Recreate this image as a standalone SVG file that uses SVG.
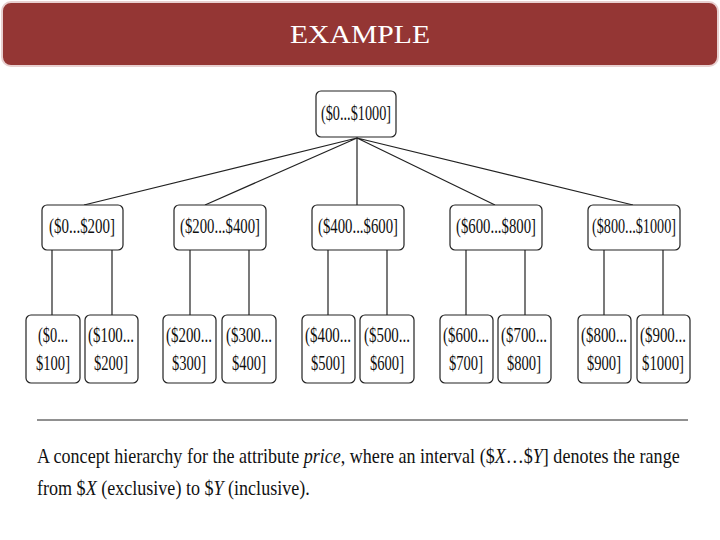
<svg xmlns="http://www.w3.org/2000/svg" width="720" height="540" viewBox="0 0 720 540">
<style>
.b{fill:#fff;stroke:#222;stroke-width:1.2}
.t{font-family:"Liberation Serif",serif;font-size:20px;fill:#111;text-anchor:middle}
.c{stroke:#222;stroke-width:1.2;fill:none}
.cap{font-family:"Liberation Serif",serif;font-size:21px;fill:#111}
</style>
<rect x="2" y="2" width="716" height="64" rx="9" fill="#943634" stroke="#e8d0d0" stroke-width="2"/>
<text x="360" y="43" font-family="Liberation Serif,serif" font-size="25" fill="#fff" text-anchor="middle" textLength="140" lengthAdjust="spacingAndGlyphs">EXAMPLE</text>
<g id="connectors">
<path class="c" d="M357 138L84 205M357 138L205 205M357 138L357 205M357 138L495 205M357 138L633 205"/>
<path class="c" d="M52 250V315M112 250V315M190 250V315M249 250V315M328 250V315M387 250V315M466 250V315M525 250V315M604 250V315M663 250V315"/>
</g>
<g id="root"><rect class="b" x="316" y="91" width="80" height="46" rx="5"/><text class="t" x="356" y="120" textLength="70" lengthAdjust="spacingAndGlyphs">($0...$1000]</text></g>
<g id="m1"><rect class="b" x="42" y="205" width="81" height="45" rx="5"/><text class="t" x="82" y="233" textLength="66" lengthAdjust="spacingAndGlyphs">($0...$200]</text></g>
<g id="m2"><rect class="b" x="174" y="205" width="92" height="45" rx="5"/><text class="t" x="220" y="233" textLength="80" lengthAdjust="spacingAndGlyphs">($200...$400]</text></g>
<g id="m3"><rect class="b" x="312" y="205" width="92" height="45" rx="5"/><text class="t" x="358" y="233" textLength="80" lengthAdjust="spacingAndGlyphs">($400...$600]</text></g>
<g id="m4"><rect class="b" x="450" y="205" width="92" height="45" rx="5"/><text class="t" x="496" y="233" textLength="80" lengthAdjust="spacingAndGlyphs">($600...$800]</text></g>
<g id="m5"><rect class="b" x="588" y="205" width="92" height="45" rx="5"/><text class="t" x="634" y="233" textLength="84" lengthAdjust="spacingAndGlyphs">($800...$1000]</text></g>
<g id="l1"><rect class="b" x="26" y="315" width="54" height="68" rx="5"/><text class="t" x="53" y="342" textLength="30" lengthAdjust="spacingAndGlyphs">($0...</text><text class="t" x="53" y="370" textLength="34" lengthAdjust="spacingAndGlyphs">$100]</text></g>
<g id="l2"><rect class="b" x="85" y="315" width="53" height="68" rx="5"/><text class="t" x="111" y="342" textLength="46" lengthAdjust="spacingAndGlyphs">($100...</text><text class="t" x="111" y="370" textLength="34" lengthAdjust="spacingAndGlyphs">$200]</text></g>
<g id="l3"><rect class="b" x="163" y="315" width="53" height="68" rx="5"/><text class="t" x="189" y="342" textLength="46" lengthAdjust="spacingAndGlyphs">($200...</text><text class="t" x="189" y="370" textLength="34" lengthAdjust="spacingAndGlyphs">$300]</text></g>
<g id="l4"><rect class="b" x="222" y="315" width="54" height="68" rx="5"/><text class="t" x="249" y="342" textLength="46" lengthAdjust="spacingAndGlyphs">($300...</text><text class="t" x="249" y="370" textLength="34" lengthAdjust="spacingAndGlyphs">$400]</text></g>
<g id="l5"><rect class="b" x="302" y="315" width="53" height="68" rx="5"/><text class="t" x="328" y="342" textLength="46" lengthAdjust="spacingAndGlyphs">($400...</text><text class="t" x="328" y="370" textLength="34" lengthAdjust="spacingAndGlyphs">$500]</text></g>
<g id="l6"><rect class="b" x="360" y="315" width="54" height="68" rx="5"/><text class="t" x="387" y="342" textLength="46" lengthAdjust="spacingAndGlyphs">($500...</text><text class="t" x="387" y="370" textLength="34" lengthAdjust="spacingAndGlyphs">$600]</text></g>
<g id="l7"><rect class="b" x="440" y="315" width="53" height="68" rx="5"/><text class="t" x="466" y="342" textLength="46" lengthAdjust="spacingAndGlyphs">($600...</text><text class="t" x="466" y="370" textLength="34" lengthAdjust="spacingAndGlyphs">$700]</text></g>
<g id="l8"><rect class="b" x="498" y="315" width="53" height="68" rx="5"/><text class="t" x="524" y="342" textLength="46" lengthAdjust="spacingAndGlyphs">($700...</text><text class="t" x="524" y="370" textLength="34" lengthAdjust="spacingAndGlyphs">$800]</text></g>
<g id="l9"><rect class="b" x="578" y="315" width="53" height="68" rx="5"/><text class="t" x="604" y="342" textLength="46" lengthAdjust="spacingAndGlyphs">($800...</text><text class="t" x="604" y="370" textLength="34" lengthAdjust="spacingAndGlyphs">$900]</text></g>
<g id="l10"><rect class="b" x="637" y="315" width="53" height="68" rx="5"/><text class="t" x="663" y="342" textLength="46" lengthAdjust="spacingAndGlyphs">($900...</text><text class="t" x="663" y="370" textLength="42" lengthAdjust="spacingAndGlyphs">$1000]</text></g>
<line x1="37" y1="420" x2="688" y2="420" stroke="#222" stroke-width="1"/>
<text class="cap" transform="translate(37,463) scale(0.86,1)">A concept hierarchy for the attribute <tspan font-style="italic">price</tspan>, where an interval ($<tspan font-style="italic">X</tspan>…$<tspan font-style="italic">Y</tspan>] denotes the range</text>
<text class="cap" transform="translate(37,495) scale(0.86,1)">from $<tspan font-style="italic">X</tspan> (exclusive) to $<tspan font-style="italic">Y</tspan> (inclusive).</text>
</svg>
